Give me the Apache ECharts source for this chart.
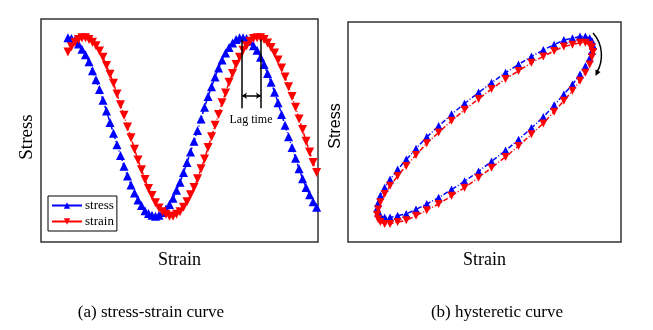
<!DOCTYPE html>
<html>
<head>
<meta charset="utf-8">
<style>
  html, body { margin: 0; padding: 0; background: #fff; }
  #main { width: 653px; height: 330px; }
</style>
<script src="https://cdn.jsdelivr.net/npm/echarts@6/dist/echarts.min.js"></script>
</head>
<body>
<div id="main"></div>
<script>
// (a) stress / strain against time, one value per sample
const stressWave = [
  1.00, 0.99, 0.97, 0.93, 0.87, 0.81, 0.73, 0.63, 0.53, 0.42,
  0.30, 0.18, 0.05, -0.07, -0.20, -0.32, -0.44, -0.55, -0.65, -0.74,
  -0.82, -0.88, -0.94, -0.97, -0.99, -1.00, -0.99, -0.96, -0.92, -0.87,
  -0.80, -0.71, -0.62, -0.51, -0.40, -0.28, -0.16, -0.04, 0.09, 0.22,
  0.34, 0.45, 0.56, 0.66, 0.75, 0.83, 0.89, 0.94, 0.98, 1.00,
  1.00, 0.99, 0.96, 0.91, 0.86, 0.78, 0.70, 0.60, 0.50, 0.39,
  0.27, 0.14, 0.02, -0.11, -0.23, -0.35, -0.47, -0.58, -0.68, -0.76,
  -0.84, -0.90
]
const strainWave = [
  0.84, 0.90, 0.95, 0.98, 1.00, 1.00, 0.98, 0.95, 0.91, 0.85,
  0.78, 0.69, 0.59, 0.49, 0.37, 0.25, 0.13, 0.00, -0.12, -0.25,
  -0.37, -0.48, -0.59, -0.69, -0.77, -0.85, -0.91, -0.95, -0.98, -1.00,
  -1.00, -0.98, -0.95, -0.90, -0.84, -0.76, -0.68, -0.58, -0.47, -0.36,
  -0.23, -0.11, 0.02, 0.14, 0.27, 0.38, 0.50, 0.60, 0.70, 0.78,
  0.86, 0.91, 0.96, 0.99, 1.00, 1.00, 0.98, 0.94, 0.89, 0.83,
  0.75, 0.66, 0.56, 0.45, 0.34, 0.22, 0.09, -0.03, -0.16, -0.28,
  -0.40, -0.51
]
// lag marks: peak positions (sample index) and bar heights
const lagPeaks = [49.7, 55.1]
const lagRange = [0.98, 0.21, 0.35]

// (b) hysteresis loop: strain (x) and stress (y)
const loopStrain = [
  1.00, 0.99, 0.97, 0.93, 0.88, 0.81, 0.73, 0.64, 0.54, 0.43,
  0.31, 0.19, 0.06, -0.06, -0.19, -0.31, -0.43, -0.54, -0.64, -0.73,
  -0.81, -0.88, -0.93, -0.97, -0.99, -1.00, -0.99, -0.97, -0.93, -0.88,
  -0.81, -0.73, -0.64, -0.54, -0.43, -0.31, -0.19, -0.06, 0.06, 0.19,
  0.31, 0.43, 0.54, 0.64, 0.73, 0.81, 0.88, 0.93, 0.97, 0.99, 1.00
]
const loopStress = [
  0.92, 0.86, 0.78, 0.69, 0.60, 0.49, 0.38, 0.26, 0.13, 0.01,
  -0.12, -0.24, -0.36, -0.47, -0.58, -0.67, -0.76, -0.83, -0.89, -0.94,
  -0.96, -0.98, -0.98, -0.96, -0.93, -0.88, -0.82, -0.74, -0.65, -0.56,
  -0.45, -0.34, -0.22, -0.09, 0.03, 0.16, 0.28, 0.40, 0.51, 0.62,
  0.71, 0.80, 0.87, 0.93, 0.98, 1.00, 1.02, 1.02, 1.00, 0.97, 0.92
]
const loopStressRed = [
  0.85, 0.79, 0.71, 0.62, 0.53, 0.42, 0.31, 0.19, 0.06, -0.06,
  -0.19, -0.31, -0.43, -0.54, -0.65, -0.74, -0.83, -0.90, -0.96, -1.01,
  -1.03, -1.05, -1.05, -1.03, -1.00, -0.95, -0.89, -0.81, -0.72, -0.63,
  -0.52, -0.41, -0.29, -0.16, -0.04, 0.09, 0.21, 0.33, 0.44, 0.55,
  0.64, 0.73, 0.80, 0.86, 0.91, 0.93, 0.95, 0.95, 0.93, 0.90, 0.85
]

const legendNames = ['stress', 'strain']

const BLUE = '#0000ff'
const RED = '#ff0000'
const SERIF = 'Liberation Serif'
const dashDot = [5, 2, 1, 2]

const toPairs = (xs, ys) => ys.map((y, i) => [xs ? xs[i] : i, y])

const chart = echarts.init(document.getElementById('main'), null, { renderer: 'canvas' })

const markerSeries = (name, data, color, flip, axis, size) => ({
  name: name,
  type: 'line',
  xAxisIndex: axis,
  yAxisIndex: axis,
  data: data,
  symbol: 'triangle',
  symbolSize: size,
  symbolRotate: flip ? 180 : 0,
  showAllSymbol: true,
  itemStyle: { color: color },
  lineStyle: { color: color, width: 1.5, type: dashDot },
  emphasis: { disabled: true }
})

const stressSeries = markerSeries('stress', toPairs(null, stressWave), BLUE, false, 0, 9)
stressSeries.markLine = {
  silent: true,
  symbol: ['none', 'none'],
  label: { show: false },
  lineStyle: { color: '#000', width: 1.5, type: 'solid' },
  data: [
    [{ coord: [lagPeaks[0], lagRange[0]] }, { coord: [lagPeaks[0], lagRange[1]] }],
    [{ coord: [lagPeaks[1], lagRange[0]] }, { coord: [lagPeaks[1], lagRange[1]] }],
    [
      { coord: [lagPeaks[0], lagRange[2]], symbol: 'arrow', symbolSize: 5 },
      { coord: [lagPeaks[1], lagRange[2]], symbol: 'arrow', symbolSize: 5 }
    ]
  ]
}

chart.setOption({
  animation: false,
  backgroundColor: '#fff',
  grid: [
    { left: 41, top: 19, width: 277, height: 223, show: true, borderColor: '#333', borderWidth: 1.5 },
    { left: 348, top: 22, width: 273, height: 220, show: true, borderColor: '#333', borderWidth: 1.5 }
  ],
  xAxis: [
    {
      gridIndex: 0, type: 'value', min: -7.7, max: 71.4,
      axisLine: { show: false }, axisTick: { show: false }, axisLabel: { show: false }, splitLine: { show: false },
      name: 'Strain', nameLocation: 'middle', nameGap: 9,
      nameTextStyle: { fontFamily: SERIF, fontSize: 18, color: '#000' }
    },
    {
      gridIndex: 1, type: 'value', min: -1.27, max: 1.26,
      axisLine: { show: false }, axisTick: { show: false }, axisLabel: { show: false }, splitLine: { show: false },
      name: 'Strain', nameLocation: 'middle', nameGap: 9,
      nameTextStyle: { fontFamily: SERIF, fontSize: 18, color: '#000' }
    }
  ],
  yAxis: [
    {
      gridIndex: 0, type: 'value', min: -1.29, max: 1.21,
      axisLine: { show: false }, axisTick: { show: false }, axisLabel: { show: false }, splitLine: { show: false }
    },
    {
      gridIndex: 1, type: 'value', min: -1.25, max: 1.18,
      axisLine: { show: false }, axisTick: { show: false }, axisLabel: { show: false }, splitLine: { show: false }
    }
  ],
  legend: {
    data: legendNames,
    left: 48,
    top: 196,
    orient: 'vertical',
    itemGap: 3,
    itemWidth: 30,
    itemHeight: 8,
    padding: [3, 3, 3, 3],
    borderColor: '#000',
    borderWidth: 1,
    backgroundColor: '#fff',
    lineStyle: { type: 'solid', width: 2 },
    textStyle: { fontFamily: SERIF, fontSize: 13, color: '#000', padding: [0, 0, 0, -2] }
  },
  graphic: [
    {
      type: 'text', x: 251, y: 120, z: 100,
      style: { text: 'Lag time', fontFamily: SERIF, fontSize: 12, fill: '#000', align: 'center', verticalAlign: 'middle' }
    },
    {
      type: 'bezierCurve', z: 100,
      shape: { x1: 593, y1: 33, cpx1: 604, cpy1: 45, cpx2: 603, cpy2: 62, x2: 597, y2: 72 },
      style: { stroke: '#000', lineWidth: 1.5, fill: null }
    },
    {
      type: 'polygon', z: 100,
      shape: { points: [[595.5, 76], [600.5, 72], [595.5, 69.5]] },
      style: { fill: '#000' }
    },
    {
      type: 'text', x: 27, y: 137, rotation: Math.PI / 2,
      style: { text: 'Stress', fontFamily: SERIF, fontSize: 19, fill: '#000', align: 'center', verticalAlign: 'middle' }
    },
    {
      type: 'text', x: 336, y: 126, rotation: Math.PI / 2,
      style: { text: 'Stress', fontFamily: 'Liberation Sans', fontSize: 16, fill: '#000', align: 'center', verticalAlign: 'middle' }
    },
    {
      type: 'text', x: 151, y: 313,
      style: { text: '(a) stress-strain curve', fontFamily: SERIF, fontSize: 17, fill: '#000', align: 'center', verticalAlign: 'middle' }
    },
    {
      type: 'text', x: 497, y: 313,
      style: { text: '(b) hysteretic curve', fontFamily: SERIF, fontSize: 17, fill: '#000', align: 'center', verticalAlign: 'middle' }
    }
  ],
  series: [
    stressSeries,
    markerSeries('strain', toPairs(null, strainWave), RED, true, 0, 9),
    markerSeries('stress-loop', toPairs(loopStrain, loopStress), BLUE, false, 1, 8),
    markerSeries('strain-loop', toPairs(loopStrain, loopStressRed), RED, true, 1, 8)
  ]
})
</script>
</body>
</html>
